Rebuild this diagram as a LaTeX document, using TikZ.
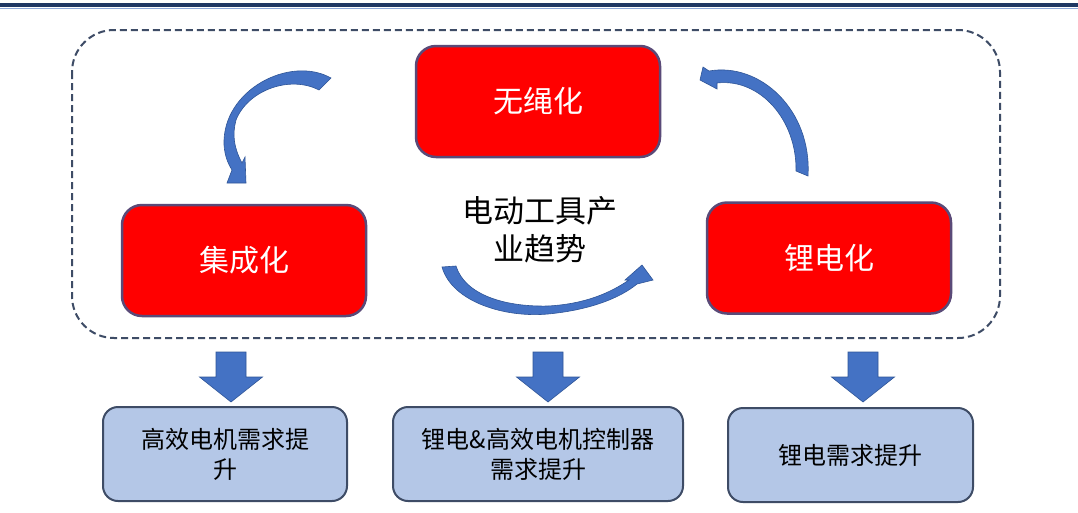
\documentclass[tikz,border=0pt]{standalone}
\usepackage{fontspec}
\newfontfamily\cjk{Noto Sans CJK SC}
\definecolor{navy}{HTML}{1F3864}
\definecolor{lightline}{HTML}{8FAADC}
\definecolor{slate}{HTML}{3E4C66}
\definecolor{redfill}{HTML}{FF0000}
\definecolor{redborder}{HTML}{5A4A78}
\definecolor{boxfill}{HTML}{B4C7E7}
\definecolor{arrowblue}{HTML}{4472C4}
\definecolor{arrowedge}{HTML}{2F5597}
\tikzset{
  redbox/.style={draw=redborder, line width=2.5pt, fill=redfill, rounded corners=20pt,
    minimum width=244pt, minimum height=111pt, inner sep=0pt, text=white,
    font=\cjk\fontsize{30}{36}\selectfont},
  bluebox/.style={draw=slate, line width=2pt, fill=boxfill, rounded corners=15pt,
    minimum height=94pt, inner sep=0pt, align=center, text=black,
    font=\cjk\fontsize{24}{30}\selectfont},
  downarrow/.style={fill=arrowblue, draw=arrowedge, line width=0.6pt},
  curvearrow/.style={fill=arrowblue, draw=arrowedge, line width=0.6pt},
}
\begin{document}
\begin{tikzpicture}[x=1pt,y=-1pt]
\useasboundingbox (0,0) rectangle (1078,512);
\fill[white] (0,0) rectangle (1078,512);
% header rule
\draw[navy, line width=4pt] (0,5) -- (1078,5);
\draw[lightline, line width=1pt] (0,8.5) -- (1078,8.5);
% dashed frame
\draw[slate, line width=2pt, dash pattern=on 7pt off 4pt, rounded corners=42pt] (72,30) rectangle (1000,338);
% red boxes
\node[redbox] (wsh) at (538,101.5) {无绳化};
\node[redbox] (jch) at (244,260.5) {集成化};
\node[redbox] (ldh) at (829,258) {锂电化};
% center text
\node[align=center, font=\cjk\fontsize{31}{38}\selectfont, text=black] (trend) at (540,230) {电动工具产\\业趋势};
% curved arrows
\path[curvearrow] (331,78) .. controls (290,55) and (222,90) .. (224,145)
  .. controls (225,158) and (229,165) .. (232,170) -- (227,183) -- (246,183) -- (245,157) -- (242,163)
  .. controls (234,148) and (232,135) .. (236,120) .. controls (248,90) and (290,75) .. (319,90) -- cycle;
\path[curvearrow] (700,80) -- (703,67) -- (709,71) .. controls (760,62) and (812,110) .. (808,176)
  -- (796,171) .. controls (797,120) and (760,78) .. (717,83) -- (717,89) -- cycle;
\path[curvearrow] (442,267) .. controls (452,302) and (505,318) .. (548,314)
  .. controls (590,310) and (620,298) .. (637,284) -- (653,280) -- (642,265) -- (625,280) -- (629,280)
  .. controls (610,293) and (585,304) .. (548,306) .. controls (505,307) and (465,295) .. (456,266) -- cycle;
% bottom boxes
\node[bluebox, minimum width=244pt] (b1) at (225,454) {高效电机需求提\\升};
\node[bluebox, minimum width=290pt] (b2) at (538,454) {锂电\&高效电机控制器\\需求提升};
\node[bluebox, minimum width=245pt] (b3) at (850.5,455) {锂电需求提升};
% down block arrows
\foreach \cx/\tgt in {231/b1, 548/b2, 863/b3}{
  \path[downarrow, shift={(\cx,377)}] (-15,-25) -- (15,-25) -- (15,0) -- (31.5,0) -- (0,25) -- (-31.5,0) -- (-15,0) -- cycle;
}
\end{tikzpicture}
\end{document}
